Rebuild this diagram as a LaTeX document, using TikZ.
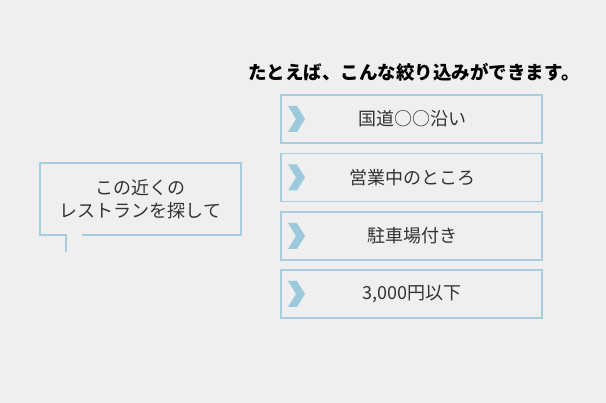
\documentclass[tikz,border=0pt]{standalone}
\usepackage{fontspec}
\newfontfamily\cjk{Noto Sans CJK JP}
\definecolor{bg}{HTML}{EFEFEF}
\definecolor{bd}{HTML}{A8CEDD}
\definecolor{chev}{HTML}{9CCADC}
\definecolor{tx}{HTML}{333333}
\begin{document}
\begin{tikzpicture}[x=1pt,y=-1pt,
  item/.style={draw=bd,line width=1.2pt,fill=bg,minimum width=261pt,minimum height=48pt,inner sep=0pt},
  lbl/.style={font=\cjk\fontsize{18}{23}\selectfont,text=tx},
  chevs/.style={fill=chev,draw=none}]
\fill[bg] (0,0) rectangle (606,403);
\useasboundingbox (0,0) rectangle (606,403);
\node[font=\cjk\bfseries\fontsize{18.5}{20}\selectfont,text=black] (title) at (414,72) {たとえば、こんな絞り込みができます。};
\foreach \n/\y/\t in {a/119/国道○○沿い,b/177.5/営業中のところ,c/236/駐車場付き,d/294/3{,}000円以下}{
  \node[item] (\n) at (411.5,\y) {};
  \node[lbl] (\n t) at (412,\y) {\t};
  \fill[chevs] (288,\y-13) -- (297,\y-13) -- (305,\y) -- (297,\y+13) -- (288,\y+13) -- (296,\y) -- cycle;
}
\coordinate (tl) at (40,163);
\coordinate (tr) at (241,163);
\coordinate (br) at (241,235);
\coordinate (bl) at (40,235);
\coordinate (t1) at (66,235);
\coordinate (t2) at (66,252);
\coordinate (t3) at (82,235);
\draw[bd,line width=1.2pt] (t3) -- (br) -- (tr) -- (tl) -- (bl) -- (t1) -- (t2);
\node[lbl,align=center] (bubble) at (140.5,199) {この近くの\\レストランを探して};
\end{tikzpicture}
\end{document}
